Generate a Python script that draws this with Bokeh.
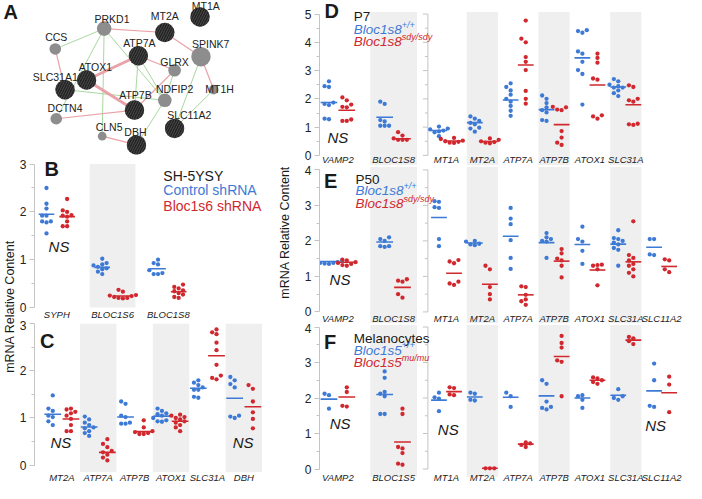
import math
from bokeh.plotting import figure
from bokeh.models import Range1d, FixedTicker, ColumnDataSource
from bokeh.layouts import row, column
from bokeh.core.properties import value
from bokeh.embed import file_html
from bokeh.resources import INLINE

# ---------------- data ----------------
# Panel A network
NODE_NAMES = ["PRKD1", "MT2A", "MT1A", "CCS", "ATP7A", "SPINK7", "GLRX", "ATOX1",
              "SLC31A1", "MT1H", "NDFIP2", "ATP7B", "DCTN4", "SLC11A2", "CLN5", "DBH"]
NODE_X = [106, 168, 204, 56, 141, 205, 178, 88, 66, 218, 168, 137, 57, 178, 104, 139]
NODE_Y = [29, 33, 17, 50, 57, 58, 72, 82, 92, 92, 103, 113, 122, 132, 140, 149]
NODE_D = [15, 20, 20, 12, 20, 20, 13, 20, 20, 10, 14, 20, 12, 20, 9, 20]
NODE_KIND = ["g", "b", "b", "g", "b", "g", "g", "b", "b", "g", "g", "b", "g", "b", "g", "b"]
LABEL_X = [114, 168, 210, 57, 142, 215, 178, 97, 56, 224, 178, 138, 66, 193, 111, 138]
LABEL_Y = [19, 16, 6, 38, 44, 45, 63, 69, 79, 91, 91, 98, 111, 118, 131, 136]
PINK_EDGES = [("PRKD1", "MT2A"), ("MT2A", "SPINK7"), ("CCS", "SLC31A1"), ("ATP7A", "GLRX"),
              ("SPINK7", "MT1H"), ("GLRX", "ATP7B"), ("DCTN4", "ATP7B"), ("CLN5", "DBH")]
THICK_EDGES = [("ATOX1", "ATP7A"), ("ATOX1", "ATP7B")]
GREEN_EDGES = [("PRKD1", "CCS"), ("PRKD1", "CLN5"), ("PRKD1", "NDFIP2"), ("PRKD1", "DCTN4"),
               ("ATP7A", "ATP7B"), ("ATP7A", "NDFIP2"), ("SLC31A1", "NDFIP2"),
               ("SPINK7", "SLC11A2"), ("MT1H", "SLC11A2"), ("NDFIP2", "DBH"), ("GLRX", "NDFIP2")]

# Panel B
B_CATS = ["SYPH", "BLOC1S6", "BLOC1S8"]
B_CTRL = [[2.50, 2.17, 2.07, 1.92, 1.92, 1.80, 1.80, 1.78, 1.55],
          [1.02, 0.93, 0.90, 0.88, 0.85, 0.82, 0.80, 0.75, 0.70],
          [1.00, 0.93, 0.90, 0.78, 0.72, 0.70, 0.70]]
B_KD = [[2.27, 2.03, 2.00, 1.93, 1.90, 1.92, 1.80, 1.70, 1.70],
        [0.37, 0.33, 0.26, 0.25, 0.24, 0.22, 0.20, 0.20, 0.19],
        [0.48, 0.43, 0.40, 0.36, 0.34, 0.30, 0.27, 0.22, 0.20]]
B_CTRL_MEAN = [1.95, 0.84, 0.81]
B_KD_MEAN = [1.90, 0.24, 0.33]

# Panel C
C_CATS = ["MT2A", "ATP7A", "ATP7B", "ATOX1", "SLC31A", "DBH"]
C_CTRL = [[1.48, 1.20, 1.15, 1.05, 1.02, 0.93, 0.85],
          [1.03, 0.97, 0.90, 0.85, 0.80, 0.78, 0.72, 0.68, 0.62],
          [1.35, 1.30, 1.05, 1.02, 0.90, 0.88, 0.88],
          [1.20, 1.15, 1.10, 1.08, 1.05, 1.00, 0.95, 0.93, 0.92],
          [1.80, 1.75, 1.70, 1.65, 1.60, 1.60, 1.45, 1.43],
          [1.87, 1.80, 1.72, 1.65, 1.05, 1.03, 1.00]]
C_KD = [[1.20, 1.18, 1.13, 1.10, 1.05, 0.98, 0.85, 0.72, 0.72],
        [0.55, 0.45, 0.38, 0.30, 0.27, 0.22, 0.16, 0.10],
        [0.95, 0.80, 0.72, 0.70, 0.68, 0.66, 0.66],
        [1.07, 1.05, 1.02, 1.00, 0.97, 0.93, 0.90, 0.85, 0.80, 0.72],
        [2.88, 2.82, 2.78, 2.60, 2.44, 2.13, 1.90, 1.85, 1.82],
        [1.70, 1.62, 1.35, 1.12, 0.98, 0.78]]
C_CTRL_MEAN = [1.08, 0.81, 1.02, 1.04, 1.63, 1.42]
C_KD_MEAN = [0.98, 0.27, 0.71, 0.93, 2.32, 1.24]

# Panel D (P7)
D_LEFT_CATS = ["VAMP2", "BLOC1S8"]
D_RIGHT_CATS = ["MT1A", "MT2A", "ATP7A", "ATP7B", "ATOX1", "SLC31A"]
D_WT_LEFT = [[2.62, 2.45, 2.42, 1.87, 1.82, 1.78, 1.30, 1.28],
             [1.90, 1.82, 1.25, 1.20, 1.05, 1.05, 1.05]]
D_MUT_LEFT = [[2.05, 1.95, 1.80, 1.72, 1.70, 1.27, 1.22, 1.22],
              [0.82, 0.70, 0.60, 0.55, 0.55, 0.55]]
D_WT_LEFT_MEAN = [1.87, 1.35]
D_MUT_LEFT_MEAN = [1.60, 0.59]
D_WT_RIGHT = [[1.02, 0.95, 0.92, 0.88, 0.85, 0.82, 0.68],
              [1.38, 1.30, 1.22, 1.15, 1.10, 0.98, 0.95, 0.84],
              [2.55, 2.42, 2.30, 2.15, 2.00, 1.90, 1.75, 1.58, 1.40],
              [2.12, 2.00, 1.85, 1.70, 1.60, 1.52, 1.25, 1.22],
              [4.43, 4.40, 4.34, 3.68, 3.60, 3.31, 3.02, 2.88, 1.80],
              [2.70, 2.62, 2.50, 2.45, 2.40, 2.40, 2.30, 2.20, 2.10]]
D_MUT_RIGHT = [[0.62, 0.58, 0.52, 0.50, 0.48, 0.45, 0.44],
               [0.60, 0.55, 0.50, 0.47, 0.45, 0.43],
               [4.77, 4.13, 4.00, 3.48, 3.31, 3.02, 2.28, 2.00, 1.83],
               [1.72, 1.70, 1.62, 1.60, 0.86, 0.63, 0.45, 0.37],
               [3.60, 3.45, 3.28, 2.72, 2.68, 1.42, 1.38, 1.30],
               [2.48, 2.42, 2.00, 1.95, 1.90, 1.12, 1.10, 1.08]]
D_WT_RIGHT_MEAN = [0.88, 1.16, 1.96, 1.62, 3.45, 2.42]
D_MUT_RIGHT_MEAN = [0.51, 0.49, 3.20, 1.09, 2.49, 1.79]

# Panel E (P50)
E_LEFT_CATS = ["VAMP2", "BLOC1S8"]
E_RIGHT_CATS = ["MT1A", "MT2A", "ATP7A", "ATP7B", "ATOX1", "SLC31A", "SLC11A2"]
E_WT_LEFT = [[1.45, 1.43, 1.40, 1.38, 1.38, 1.36, 1.35],
             [2.10, 2.05, 2.00, 1.85, 1.85, 1.83]]
E_MUT_LEFT = [[1.47, 1.45, 1.40, 1.38, 1.35, 1.32, 1.30],
              [0.92, 0.88, 0.85, 0.50, 0.40]]
E_WT_LEFT_MEAN = [1.42, 1.97]
E_MUT_LEFT_MEAN = [1.40, 0.69]
E_WT_RIGHT = [[3.12, 3.10, 2.95, 2.93, 2.05, 1.85],
              [2.00, 1.98, 1.92, 1.90, 1.88],
              [2.93, 2.63, 2.47, 2.02, 1.52, 1.21],
              [2.22, 2.10, 2.05, 2.00, 1.98, 1.52],
              [2.40, 2.05, 1.98, 1.72, 1.35],
              [2.30, 2.08, 2.05, 2.00, 1.95, 1.90, 1.80, 1.75, 1.30],
              [2.05, 2.05, 1.62, 1.60]]
E_MUT_RIGHT = [[1.46, 1.42, 1.37, 0.85, 0.80, 0.76],
               [1.30, 1.20, 0.70, 0.50, 0.35],
               [0.72, 0.70, 0.48, 0.35, 0.30, 0.20],
               [1.77, 1.65, 1.50, 1.45, 1.30, 0.97],
               [1.33, 1.32, 1.30, 1.20, 0.75],
               [2.55, 1.60, 1.52, 1.45, 1.35, 1.30, 1.20, 1.10, 1.00],
               [1.48, 1.45, 1.20, 1.12]]
E_WT_RIGHT_MEAN = [2.66, 1.94, 2.13, 1.95, 1.90, 1.91, 1.82]
E_MUT_RIGHT_MEAN = [1.09, 0.78, 0.48, 1.43, 1.18, 1.41, 1.28]

# Panel F (Melanocytes)
F_LEFT_CATS = ["VAMP2", "BLOC1S5"]
F_RIGHT_CATS = ["MT1A", "MT2A", "ATP7A", "ATP7B", "ATOX1", "SLC31A", "SLC11A2"]
F_WT_LEFT = [[2.12, 2.08, 1.70], [2.75, 2.57, 2.17, 2.12, 2.05, 1.55, 1.55]]
F_MUT_LEFT = [[2.30, 2.17, 1.78, 1.76], [1.70, 1.55, 0.62, 0.58, 0.45, 0.15, 0.12]]
F_WT_LEFT_MEAN = [1.97, 2.10]
F_MUT_LEFT_MEAN = [2.03, 0.76]
F_WT_RIGHT = [[2.15, 2.02, 1.98, 1.63], [2.15, 2.12, 1.95, 1.93], [2.15, 2.05, 1.75],
              [2.50, 2.40, 1.90, 1.75, 1.72, 1.68], [2.08, 2.05, 1.95, 1.72],
              [2.25, 2.05, 2.00, 1.95], [2.97, 2.50, 1.78, 1.75]]
F_MUT_RIGHT = [[2.30, 2.28, 2.10, 2.08], [0.02, 0.02, 0.02], [0.75, 0.72, 0.68, 0.62],
               [3.75, 3.55, 3.42, 3.06, 3.02, 2.05], [2.58, 2.55, 2.50, 2.45, 2.40],
               [3.72, 3.68, 3.60, 3.52], [2.60, 2.38, 1.60]]
F_WT_RIGHT_MEAN = [1.94, 2.03, 2.02, 2.06, 2.00, 2.08, 2.20]
F_MUT_RIGHT_MEAN = [2.18, 0.02, 0.70, 3.17, 2.50, 3.63, 2.15]

# ---------------- style ----------------
FONT = "Liberation Sans"
BLUE = "#3d7ad6"
RED = "#d0282e"
BAND = "#efefef"
AXC = "#c4c4c4"
TXT = "#1a1a1a"


def swarm(vals, ypx, d=4.4):
    placed = []
    out = [0.0] * len(vals)
    order = sorted(range(len(vals)), key=lambda i: vals[i])
    for i in order:
        y = vals[i] * ypx
        chosen = 0.0
        for cand in (0.0, -d, d, -2 * d, 2 * d, -3 * d, 3 * d):
            if all((cand - xo) ** 2 + (y - yo) ** 2 >= 0.85 * d * d for xo, yo in placed):
                chosen = cand
                break
        placed.append((chosen, y))
        out[i] = chosen
    return out


def make_fig(w, h, xr, yr, left, top_tick):
    p = figure(width=w, height=h, x_range=Range1d(*xr), y_range=Range1d(*yr),
               output_backend="svg", toolbar_location=None,
               x_axis_location=None, y_axis_location="left",
               min_border_left=left, min_border_right=0, min_border_top=0, min_border_bottom=0)
    p.grid.visible = False
    p.outline_line_color = None
    ax = p.yaxis[0]
    ax.ticker = FixedTicker(ticks=list(range(top_tick + 1)),
                            minor_ticks=[k + 0.5 for k in range(top_tick)])
    ax.bounds = (0, top_tick)
    ax.axis_line_color = AXC
    ax.major_tick_line_color = AXC
    ax.minor_tick_line_color = AXC
    ax.major_tick_in = 0
    ax.major_tick_out = 5
    ax.minor_tick_in = 0
    ax.minor_tick_out = 3
    ax.major_label_text_font = FONT
    ax.major_label_text_color = "#222222"
    ax.major_label_text_font_size = "12px"
    ax.major_label_standoff = 3
    return p


def bands(p, centers, hw, bottom, top):
    p.quad(left=[c - hw for c in centers], right=[c + hw for c in centers],
           bottom=bottom, top=top, fill_color=BAND, line_color=None, level="underlay")


def groups(p, centers, wt, mut, wt_mean, mut_mean, off, half, xpx, ypx):
    xs, ys, cs = [], [], []
    mx0, mx1, my, mc = [], [], [], []
    for i, c in enumerate(centers):
        for vals, mean, sign, col in ((wt[i], wt_mean[i], -1, BLUE), (mut[i], mut_mean[i], 1, RED)):
            cx = c + sign * off
            offs = swarm(vals, ypx)
            for v, o in zip(vals, offs):
                xs.append(cx + o / xpx)
                ys.append(v)
                cs.append(col)
            mx0.append(cx - half)
            mx1.append(cx + half)
            my.append(mean)
            mc.append(col)
    p.segment(x0="x0", x1="x1", y0="y", y1="y", color="c", line_width=1.6,
              source=ColumnDataSource(dict(x0=mx0, x1=mx1, y=my, c=mc)))
    p.scatter(x="x", y="y", color="c", size=4.3, line_color=None,
              source=ColumnDataSource(dict(x=xs, y=ys, c=cs)))


def cat_labels(p, centers, cats, y):
    p.text(x=list(centers), y=[y] * len(cats), text=cats,
           text_font=value(FONT), text_font_size="9.5px", text_font_style="italic",
           text_align="center", text_baseline="middle", text_color="#222222")


def txt(p, x, y, s, size="14px", style="normal", color=TXT, align="left", xo=0, yo=0):
    p.text(x=[x], y=[y], text=[s], text_font=value(FONT), text_font_size=size,
           text_font_style=style, text_color=color, text_align=align,
           text_baseline="middle", x_offset=xo, y_offset=yo)


def legend3(p, x, ys, title, gene, sup_wt, sup_mut):
    txt(p, x, ys[0], title, size="13.5px")
    txt(p, x, ys[1], gene, size="13.5px", style="italic", color=BLUE)
    txt(p, x, ys[1], sup_wt, size="9px", style="italic", color=BLUE, xo=48, yo=-5)
    txt(p, x, ys[2], gene, size="13.5px", style="italic", color=RED)
    txt(p, x, ys[2], sup_mut, size="9px", style="italic", color=RED, xo=48, yo=-5)


# ---------------- Panel A ----------------
pa = figure(width=266, height=158, x_range=Range1d(0, 272), y_range=Range1d(163, 0),
            output_backend="svg", toolbar_location=None,
            x_axis_location=None, y_axis_location=None,
            min_border_left=0, min_border_right=0, min_border_top=0, min_border_bottom=0)
pa.grid.visible = False
pa.outline_line_color = None
pos = {n: (x, y) for n, x, y in zip(NODE_NAMES, NODE_X, NODE_Y)}
for edges, col, lw in ((GREEN_EDGES, "#a9d8a0", 1.0), (PINK_EDGES, "#e8a2a8", 1.2),
                       (THICK_EDGES, "#e8a2a8", 3.0)):
    pa.segment(x0=[pos[a][0] for a, b in edges], y0=[pos[a][1] for a, b in edges],
               x1=[pos[b][0] for a, b in edges], y1=[pos[b][1] for a, b in edges],
               line_color=col, line_width=lw)
gi = [i for i, k in enumerate(NODE_KIND) if k == "g"]
bi = [i for i, k in enumerate(NODE_KIND) if k == "b"]
pa.scatter(x=[NODE_X[i] for i in gi], y=[NODE_Y[i] for i in gi],
           size=[NODE_D[i] * 0.97 for i in gi], fill_color="#8d8d8d", line_color=None)
pa.scatter(x=[NODE_X[i] for i in bi], y=[NODE_Y[i] for i in bi],
           size=[NODE_D[i] * 0.97 for i in bi], fill_color="#222222", line_color=None,
           hatch_pattern="/", hatch_color="#4a4a4a", hatch_scale=5, hatch_weight=1)
pa.text(x=LABEL_X, y=LABEL_Y, text=NODE_NAMES, text_font=value(FONT), text_font_size="10.5px",
        text_align="center", text_baseline="middle", text_color="#222222")
txt(pa, 3, 12, "A", size="20px", style="bold")

# ---------------- y label fig for B/C ----------------
pl = figure(width=16, height=325, x_range=Range1d(0, 16), y_range=Range1d(0, 325),
            output_backend="svg", toolbar_location=None,
            x_axis_location=None, y_axis_location=None,
            min_border_left=0, min_border_right=0, min_border_top=0, min_border_bottom=0)
pl.grid.visible = False
pl.outline_line_color = None
pl.text(x=[9.8], y=[177], text=["mRNA Relative Content"], angle=math.pi / 2,
        text_font=value(FONT), text_font_size="12.5px", text_align="center",
        text_baseline="middle", text_color=TXT)

# ---------------- Panel B ----------------
pb = make_fig(250, 162, (-0.4, 3.76), (-0.272, 3.117), 16, 3)
bands(pb, [1], 0.41, 0, 3.0)
groups(pb, range(3), B_CTRL, B_KD, B_CTRL_MEAN, B_KD_MEAN, 0.185, 0.14, 56.25, 47.8)
cat_labels(pb, range(3), B_CATS, -0.15)
txt(pb, -0.22, 2.9, "B", size="20px", style="bold")
txt(pb, 0.04, 1.28, "NS", size="15px", style="italic", align="center")
txt(pb, 1.91, 2.76, "SH-5YSY", size="14px")
txt(pb, 1.91, 2.45, "Control shRNA", size="14px", color=BLUE)
txt(pb, 1.91, 2.13, "Bloc1s6 shRNA", size="14px", color=RED)

# ---------------- Panel C ----------------
pc = make_fig(250, 163, (-0.752, 5.624), (-0.391, 3.07), 16, 3)
bands(pc, [1, 3, 5], 0.5, -0.145, 3.0)
groups(pc, range(6), C_CTRL, C_KD, C_CTRL_MEAN, C_KD_MEAN, 0.25, 0.23, 36.7, 47.1)
cat_labels(pc, range(6), C_CATS, -0.27)
txt(pc, -0.6, 2.63, "C", size="20px", style="bold")
txt(pc, -0.025, 0.47, "NS", size="15px", style="italic", align="center")
txt(pc, 4.98, 0.47, "NS", size="15px", style="italic", align="center")

# ---------------- Panels D, E, F (one figure each, two sections) ----------------
XPX = 55.7                 # px per left-section category
RK = 35.86 / XPX           # right-section category spacing in left units
R0 = 1.95                  # first right-section category
AX2 = 1.616                # second (unlabelled) axis position


def row_panel(h, yr, top_tick, band_top, band_bottom, ypx, lcats, rcats,
              wl, ml, wlm, mlm, wr, mr, wrm, mrm, label_y):
    p = make_fig(420, h, (-0.33, 6.259), yr, 53, top_tick)
    lc = list(range(len(lcats)))
    rc = [R0 + i * RK for i in range(len(rcats))]
    bands(p, [1], 0.42, band_bottom, band_top)
    bands(p, [rc[1], rc[3], rc[5]], 0.435 * RK, band_bottom, band_top)
    # second axis (no labels) between the two sections
    p.segment(x0=[AX2], x1=[AX2], y0=[0], y1=[top_tick], line_color=AXC, line_width=1)
    maj = list(range(top_tick + 1))
    mnr = [k + 0.5 for k in range(top_tick)]
    p.segment(x0=[AX2 - 5 / XPX] * len(maj), x1=[AX2] * len(maj), y0=maj, y1=maj,
              line_color=AXC, line_width=1)
    p.segment(x0=[AX2 - 3 / XPX] * len(mnr), x1=[AX2] * len(mnr), y0=mnr, y1=mnr,
              line_color=AXC, line_width=1)
    groups(p, lc, wl, ml, wlm, mlm, 0.16, 0.15, XPX, ypx)
    groups(p, rc, wr, mr, wrm, mrm, 0.21 * RK, 0.22 * RK, XPX, ypx)
    cat_labels(p, lc, lcats, label_y)
    cat_labels(p, rc, rcats, label_y)
    return p, rc


pd, rcd = row_panel(165, (-0.357, 5.48), 5, 5.07, -0.357, 28.26, D_LEFT_CATS, D_RIGHT_CATS,
                    D_WT_LEFT, D_MUT_LEFT, D_WT_LEFT_MEAN, D_MUT_LEFT_MEAN,
                    D_WT_RIGHT, D_MUT_RIGHT, D_WT_RIGHT_MEAN, D_MUT_RIGHT_MEAN, -0.16)
txt(pd, -0.24, 5.11, "D", size="20px", style="bold")
txt(pd, 0.0, 0.62, "NS", size="15px", style="italic", align="center")
legend3(pd, 0.283, [4.91, 4.45, 4.02], "P7", "Bloc1s8", "+/+", "sdy/sdy")

pe, rce = row_panel(158, (-0.327, 4.124), 4, 4.08, -0.327, 35.5, E_LEFT_CATS, E_RIGHT_CATS,
                    E_WT_LEFT, E_MUT_LEFT, E_WT_LEFT_MEAN, E_MUT_LEFT_MEAN,
                    E_WT_RIGHT, E_MUT_RIGHT, E_WT_RIGHT_MEAN, E_MUT_RIGHT_MEAN, -0.18)
pe.yaxis[0].axis_label = "\u00a0" * 7 + "mRNA Relative Content"
pe.yaxis[0].axis_label_text_font = FONT
pe.yaxis[0].axis_label_text_font_size = "12.5px"
pe.yaxis[0].axis_label_text_font_style = "normal"
pe.yaxis[0].axis_label_text_color = TXT
pe.yaxis[0].axis_label_standoff = 10
txt(pe, -0.25, 3.70, "E", size="20px", style="bold")
txt(pe, 0.038, 0.92, "NS", size="15px", style="italic", align="center")
legend3(pe, 0.318, [3.73, 3.41, 3.05], "P50", "Bloc1s8", "+/+", "sdy/sdy")

pf, rcf = row_panel(160, (-0.408, 4.099), 4, 4.06, -0.22, 35.5, F_LEFT_CATS, F_RIGHT_CATS,
                    F_WT_LEFT, F_MUT_LEFT, F_WT_LEFT_MEAN, F_MUT_LEFT_MEAN,
                    F_WT_RIGHT, F_MUT_RIGHT, F_WT_RIGHT_MEAN, F_MUT_RIGHT_MEAN, -0.245)
txt(pf, -0.25, 3.57, "F", size="20px", style="bold")
txt(pf, 0.04, 1.28, "NS", size="15px", style="italic", align="center")
legend3(pf, 0.283, [3.67, 3.34, 2.99], "Melanocytes", "Bloc1s5", "+/+", "mu/mu")
txt(pf, rcf[0] + 0.05 * RK, 1.12, "NS", size="15px", style="italic", align="center")
txt(pf, rcf[6] - 0.17 * RK, 1.23, "NS", size="15px", style="italic", align="center")

left = column(pa, row(pl, column(pb, pc)))
right = column(pd, pe, pf)
p = row(left, right)

open("out.html", "w").write(file_html(p, INLINE))
